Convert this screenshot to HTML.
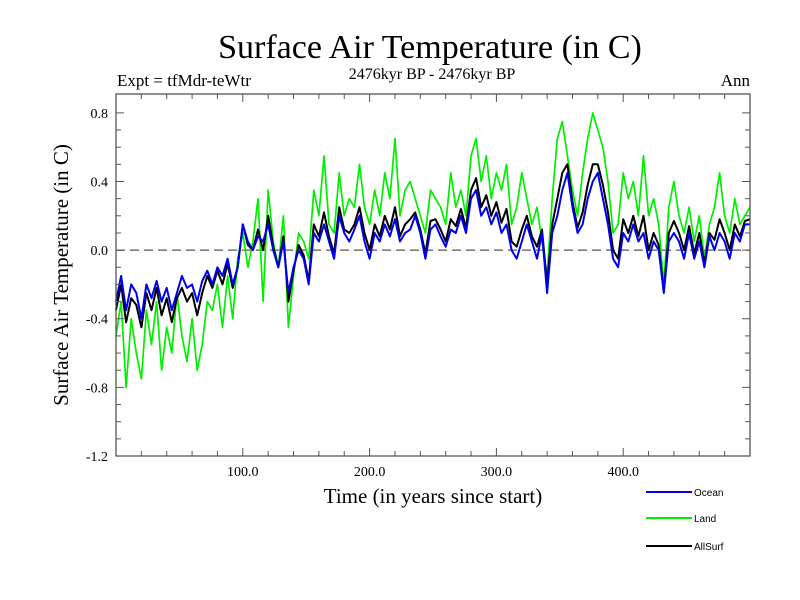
<!DOCTYPE html>
<html><head><meta charset="utf-8"><style>
body{margin:0;background:#fff;width:800px;height:600px;overflow:hidden}
svg{display:block}
text{font-family:"Liberation Serif",serif;fill:#000}
</style></head><body>
<svg id="chart" width="800" height="600">
<text x="430" y="58" font-size="34" text-anchor="middle">Surface Air Temperature (in C)</text>
<text x="117" y="86" font-size="17">Expt = tfMdr-teWtr</text>
<text x="432" y="79" font-size="16" text-anchor="middle">2476kyr BP - 2476kyr BP</text>
<text x="750" y="86" font-size="17" text-anchor="end">Ann</text>
<text x="433" y="503" font-size="21" text-anchor="middle">Time (in years since start)</text>
<text transform="translate(68,275) rotate(-90)" font-size="21" text-anchor="middle">Surface Air Temperature (in C)</text>
<g id="plot"></g>
</svg>
<script>
const years=[];for(let y=0;y<=500;y+=4)years.push(y);
const ocean=[-0.3,-0.15,-0.35,-0.2,-0.25,-0.4,-0.2,-0.28,-0.18,-0.3,-0.22,-0.35,-0.25,-0.15,-0.22,-0.2,-0.3,-0.18,-0.12,-0.2,-0.1,-0.15,-0.05,-0.2,-0.1,0.15,0.05,0.0,0.08,0.05,0.15,0.0,-0.1,0.05,-0.25,-0.1,0.0,-0.05,-0.2,0.1,0.05,0.15,0.05,-0.05,0.2,0.1,0.05,0.12,0.2,0.05,-0.05,0.1,0.05,0.15,0.08,0.18,0.05,0.1,0.12,0.2,0.1,-0.05,0.12,0.15,0.08,0.02,0.12,0.1,0.2,0.1,0.3,0.35,0.2,0.25,0.15,0.22,0.1,0.15,0.0,-0.05,0.05,0.15,0.05,-0.05,0.1,-0.25,0.1,0.2,0.35,0.45,0.25,0.1,0.15,0.3,0.4,0.45,0.3,0.15,-0.05,-0.1,0.1,0.05,0.15,0.05,0.1,-0.05,0.05,0.0,-0.25,0.05,0.1,0.05,-0.05,0.1,-0.05,0.05,-0.1,0.08,0.0,0.1,0.05,-0.05,0.1,0.05,0.15,0.15];
const land=[-0.5,-0.3,-0.8,-0.4,-0.6,-0.75,-0.35,-0.55,-0.3,-0.7,-0.45,-0.6,-0.25,-0.5,-0.65,-0.4,-0.7,-0.55,-0.3,-0.35,-0.2,-0.45,-0.15,-0.4,-0.05,0.1,-0.1,0.05,0.3,-0.3,0.35,0.05,-0.1,0.2,-0.45,-0.15,0.1,0.05,-0.05,0.35,0.2,0.55,0.15,0.1,0.45,0.2,0.3,0.25,0.5,0.25,0.15,0.35,0.2,0.45,0.3,0.65,0.2,0.35,0.4,0.3,0.2,0.1,0.35,0.3,0.25,0.15,0.45,0.25,0.35,0.2,0.55,0.65,0.4,0.55,0.3,0.45,0.35,0.5,0.15,0.25,0.45,0.3,0.15,0.25,0.05,-0.15,0.3,0.65,0.75,0.55,0.35,0.2,0.45,0.65,0.8,0.7,0.6,0.4,0.1,0.15,0.45,0.3,0.4,0.2,0.55,0.2,0.3,0.15,-0.2,0.25,0.4,0.2,0.1,0.25,0.05,0.2,-0.05,0.15,0.25,0.45,0.2,0.1,0.3,0.15,0.2,0.25];
const allsurf=[-0.35,-0.2,-0.42,-0.28,-0.32,-0.45,-0.25,-0.35,-0.22,-0.38,-0.28,-0.42,-0.28,-0.22,-0.3,-0.25,-0.38,-0.25,-0.15,-0.22,-0.12,-0.2,-0.08,-0.22,-0.1,0.15,0.03,0.0,0.12,0.0,0.2,0.02,-0.1,0.08,-0.3,-0.12,0.03,-0.03,-0.18,0.15,0.08,0.22,0.08,-0.02,0.25,0.12,0.1,0.15,0.25,0.1,0.0,0.15,0.08,0.2,0.12,0.25,0.08,0.15,0.18,0.22,0.12,-0.02,0.17,0.18,0.12,0.05,0.18,0.14,0.24,0.13,0.35,0.42,0.25,0.32,0.2,0.28,0.16,0.24,0.05,0.02,0.12,0.2,0.08,0.02,0.12,-0.2,0.15,0.3,0.45,0.5,0.28,0.13,0.22,0.38,0.5,0.5,0.38,0.22,0.0,-0.05,0.18,0.1,0.2,0.08,0.2,0.0,0.1,0.03,-0.24,0.1,0.17,0.1,0.0,0.14,-0.02,0.1,-0.08,0.1,0.06,0.18,0.1,0.0,0.15,0.08,0.17,0.18];
const yTicks=[0.8,0.4,0.0,-0.4,-0.8,-1.2];
const yTickLabels=["0.8","0.4","0.0","-0.4","-0.8","-1.2"];
const xTicks=[100,200,300,400];
const xTickLabels=["100.0","200.0","300.0","400.0"];
const L=116,R=750,T=94,B=456,X0=0,X1=500,Y0=-1.2,Y1=0.91;
const sx=v=>L+(v-X0)/(X1-X0)*(R-L);
const sy=v=>B-(v-Y0)/(Y1-Y0)*(B-T);
const NS="http://www.w3.org/2000/svg";
const g=document.getElementById('plot');
function mk(tag,at){const e=document.createElementNS(NS,tag);for(const k in at)e.setAttribute(k,at[k]);g.appendChild(e);return e;}
let e;
e=mk('line',{x1:L,x2:R,y1:sy(0),y2:sy(0),stroke:'#555','stroke-width':1.3,'stroke-dasharray':'9,5'});


function series(arr,color,name,w){const d=arr.map((v,i)=>(i?'L':'M')+sx(years[i]).toFixed(1)+','+sy(v).toFixed(1)).join('');
const p=mk('path',{d:d,fill:'none',stroke:color,'stroke-width':w,'stroke-linejoin':'round'});

}
series(land,'#00ee00','land-series',1.7);
series(allsurf,'#000000','allsurf-series',2);
series(ocean,'#0000ee','ocean-series',2);
e=mk('rect',{x:L,y:T,width:R-L,height:B-T,fill:'none',stroke:'#555','stroke-width':1.3});


for(let v=20;v<500;v+=20){const maj=v%100===0,len=maj?8:5;
e=mk('line',{x1:sx(v),x2:sx(v),y1:B,y2:B-len,stroke:'#555'});


e=mk('line',{x1:sx(v),x2:sx(v),y1:T,y2:T+len,stroke:'#555'});

}
for(let k=-11;k<=8;k++){const v=k/10,maj=k%4===0,len=maj?8:5;
e=mk('line',{x1:L,x2:L+len,y1:sy(v),y2:sy(v),stroke:'#555'});


e=mk('line',{x1:R,x2:R-len,y1:sy(v),y2:sy(v),stroke:'#555'});

}
yTicks.forEach((v,i)=>{e=mk('text',{x:L-8,y:sy(v)+5,'font-size':14,'text-anchor':'end'});e.textContent=yTickLabels[i];

});
xTicks.forEach((v,i)=>{e=mk('text',{x:sx(v),y:B+20,'font-size':14,'text-anchor':'middle'});e.textContent=xTickLabels[i];

});
const legNames=["Ocean","Land","AllSurf"],legColors=['#0000ee','#00ee00','#000000'],legY=[492,518,546];
legNames.forEach((n,i)=>{e=mk('line',{x1:646,x2:692,y1:legY[i],y2:legY[i],stroke:legColors[i],'stroke-width':2});


e=mk('text',{x:694,y:legY[i]+4,'font-size':10,style:'font-family:"Liberation Sans",sans-serif'});e.textContent=n;

});
</script>
</body></html>
